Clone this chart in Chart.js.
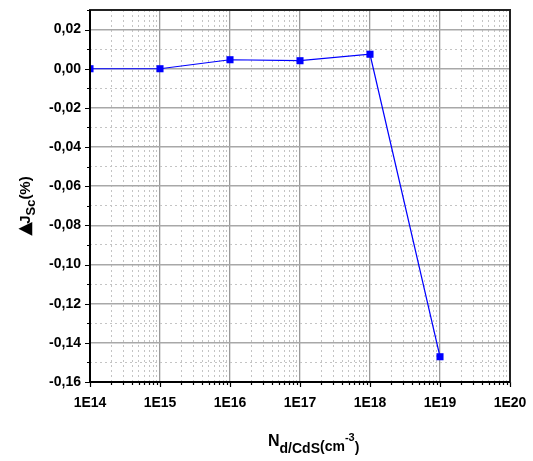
<!DOCTYPE html>
<html><head><meta charset="utf-8">
<script src="https://cdn.jsdelivr.net/npm/chart.js@4"></script>
<style>html,body{margin:0;padding:0;background:#fff;overflow:hidden;}</style>
</head><body>
<canvas id="c" width="533" height="461" style="width:533px;height:461px;display:block"></canvas>
<script>
// ---- data ----
const concentrations = [1e14, 1e15, 1e16, 1e17, 1e18, 1e19];   // N_d/CdS (cm^-3)
const deltaJsc = [0.0000, 0.0000, 0.0046, 0.0041, 0.0074, -0.1471]; // ΔJsc (%)
const xTickLabels = ['1E14', '1E15', '1E16', '1E17', '1E18', '1E19', '1E20'];
const yTickLabels = ['-0,16', '-0,14', '-0,12', '-0,10', '-0,08', '-0,06', '-0,04', '-0,02', '0,00', '0,02'];
const yMajorValues = [-0.16, -0.14, -0.12, -0.10, -0.08, -0.06, -0.04, -0.02, 0.00, 0.02];
const yMinorValues = [-0.15, -0.13, -0.11, -0.09, -0.07, -0.05, -0.03, -0.01, 0.01, 0.03];
const xMin = 1e14, xMax = 1e20, yMin = -0.16, yMax = 0.03;

// build tick lists (decades + 2..9 minors)
const xMajorValues = xTickLabels.map(s => Number(s));
const xAllTicks = [];
for (let e = 14; e < 20; e++) for (let m = 1; m <= 9; m++) xAllTicks.push(m * Math.pow(10, e));
xAllTicks.push(1e20);
const yAllTicks = yMajorValues.concat(yMinorValues).sort((a, b) => a - b);

const isXMajor = v => xMajorValues.some(m => Math.abs(v / m - 1) < 1e-6);
const isYMajor = v => yMajorValues.some(m => Math.abs(v - m) < 1e-6);
const FONT = '"Liberation Sans", Arial, Helvetica, sans-serif';

const framePlugin = {
  id: 'frame',
  afterDraw(chart) {
    const {ctx, chartArea: a, scales: {x, y}} = chart;
    ctx.save();
    // tick marks (outside)
    ctx.strokeStyle = '#000';
    ctx.lineWidth = 1.2;
    ctx.beginPath();
    yAllTicks.forEach(v => {
      const py = Math.round(y.getPixelForValue(v)) + 0.5;
      const len = isYMajor(v) ? 5 : 3;
      ctx.moveTo(a.left - len, py); ctx.lineTo(a.left, py);
    });
    xAllTicks.forEach(v => {
      const px = Math.round(x.getPixelForValue(v)) + 0.5;
      const len = isXMajor(v) ? 5 : 3;
      ctx.moveTo(px, a.bottom); ctx.lineTo(px, a.bottom + len);
    });
    ctx.stroke();
    // frame
    ctx.lineWidth = 2;
    ctx.strokeStyle = '#222';
    ctx.strokeRect(a.left, a.top, a.right - a.left, a.bottom - a.top);
    ctx.strokeStyle = '#000';
    ctx.beginPath();
    ctx.moveTo(a.left, a.top); ctx.lineTo(a.left, a.bottom); ctx.lineTo(a.right, a.bottom);
    ctx.stroke();

    ctx.fillStyle = '#000';
    ctx.textBaseline = 'alphabetic';
    ctx.textAlign = 'left';
    // x title: N_{d/CdS}(cm^{-3})
    const xParts = [
      {t: 'N', f: 16, dy: 0},
      {t: 'd/CdS', f: 14, dy: 7},
      {t: '(cm', f: 14, dy: 5},
      {t: '-3', f: 11, dy: -5},
      {t: ')', f: 14, dy: 6}
    ];
    let cx = 268;
    const xb = 446;
    xParts.forEach(p => {
      ctx.font = 'bold ' + p.f + 'px ' + FONT;
      ctx.fillText(p.t, cx, xb + p.dy);
      cx += ctx.measureText(p.t).width;
    });
    // y title: ▲J_{Sc}(%)
    const yParts = [
      {t: '\u25B2', f: 18, dy: 0, fam: '"DejaVu Sans", ' + FONT},
      {t: 'J', f: 15, dy: 0},
      {t: 'Sc', f: 13, dy: 5},
      {t: '(%)', f: 15, dy: 0}
    ];
    let total = 0;
    yParts.forEach(p => { ctx.font = 'bold ' + p.f + 'px ' + (p.fam || FONT); p.w = ctx.measureText(p.t).width; total += p.w; });
    total -= 2;
    ctx.translate(30, 206);
    ctx.rotate(-Math.PI / 2);
    let tx = -total / 2;
    yParts.forEach((p, i) => {
      ctx.font = 'bold ' + p.f + 'px ' + (p.fam || FONT);
      ctx.fillText(p.t, tx, p.dy);
      tx += p.w - (i === 0 ? 2 : 0);
    });
    ctx.restore();
  }
};

new Chart(document.getElementById('c'), {
  type: 'line',
  data: {
    datasets: [{
      data: concentrations.map((c, i) => ({x: c, y: deltaJsc[i]})),
      borderColor: '#0000ff',
      backgroundColor: '#0000ff',
      borderWidth: 1.2,
      pointStyle: 'rect',
      pointRadius: 5,
      pointHoverRadius: 5,
      pointBorderWidth: 0,
      pointBackgroundColor: '#0000ff',
      tension: 0,
      fill: false
    }]
  },
  options: {
    responsive: false,
    animation: false,
    devicePixelRatio: 1,
    events: [],
    layout: {padding: {top: 10, right: 23, left: 0, bottom: 0}},
    plugins: {legend: {display: false}, tooltip: {enabled: false}, title: {display: false}},
    scales: {
      x: {
        type: 'logarithmic',
        min: xMin, max: xMax,
        afterBuildTicks: s => { s.ticks = xAllTicks.map(v => ({value: v})); },
        afterFit: s => { s.height = 79; s.paddingLeft = 0; s.paddingRight = 0; },
        grid: {
          drawTicks: false,
          color: c => (c.tick && isXMajor(c.tick.value)) ? '#9a9a9a' : '#c4c4c4',
          lineWidth: c => (c.tick && isXMajor(c.tick.value)) ? 1.3 : 1
        },
        border: {display: false, dash: c => (c.tick && isXMajor(c.tick.value)) ? [] : [2, 3]},
        ticks: {
          autoSkip: false, maxRotation: 0, minRotation: 0, padding: 13,
          color: '#000',
          font: {family: FONT, size: 14, weight: 'bold'},
          callback: (v) => {
            const i = xMajorValues.findIndex(m => Math.abs(v / m - 1) < 1e-6);
            return i >= 0 ? xTickLabels[i] : '';
          }
        }
      },
      y: {
        type: 'linear',
        min: yMin, max: yMax,
        afterBuildTicks: s => { s.ticks = yAllTicks.map(v => ({value: v})); },
        afterFit: s => { s.width = 90; s.paddingTop = 0; s.paddingBottom = 0; },
        grid: {
          drawTicks: false,
          color: c => (c.tick && isYMajor(c.tick.value)) ? '#a8a8a8' : '#c4c4c4',
          lineWidth: c => (c.tick && isYMajor(c.tick.value)) ? 1.5 : 1
        },
        border: {display: false, dash: c => (c.tick && isYMajor(c.tick.value)) ? [] : [2, 3]},
        ticks: {
          autoSkip: false, padding: 9,
          color: '#000',
          font: {family: FONT, size: 14, weight: 'bold'},
          callback: (v) => {
            const i = yMajorValues.findIndex(m => Math.abs(v - m) < 1e-6);
            return i >= 0 ? yTickLabels[i] : '';
          }
        }
      }
    }
  },
  plugins: [framePlugin]
});
</script>
</body></html>
